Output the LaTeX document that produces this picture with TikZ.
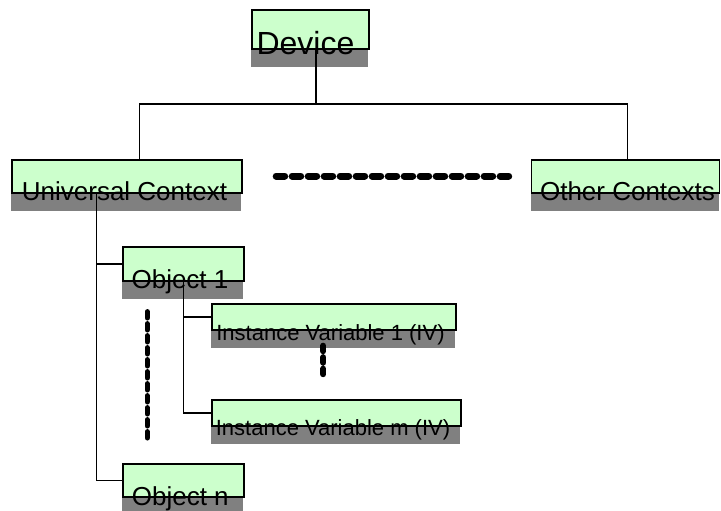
\documentclass[tikz,border=0pt]{standalone}
\usepackage{fontspec}
\setmainfont{Liberation Sans}
\usetikzlibrary{shadows}
\definecolor{boxgreen}{RGB}{204,255,204}
\definecolor{shadegray}{RGB}{128,128,128}

\begin{document}
\begin{tikzpicture}[x=1pt, y=-1pt, line width=1.3pt,
    ctx/.style={draw, fill=boxgreen, inner sep=0pt,
      general shadow={fill=shadegray, shadow xshift=-1pt, shadow yshift=-18pt}},
    txt/.style={anchor=base, inner sep=0pt, font=\fontsize{#1}{#1}\selectfont},
    dots/.style={line width=#1, line cap=round}]
  \clip (0,0) rectangle (721,511);

  % boxes
  \node [ctx, minimum width=117pt, minimum height=39pt] (dev) at (310.5,29.5) {};
  \node [ctx, minimum width=230pt, minimum height=33pt] (uc) at (127,176.5) {};
  \node [ctx, minimum width=188pt, minimum height=33pt] (oc) at (625.5,176.5) {};
  \node [ctx, minimum width=121pt, minimum height=34pt] (o1) at (183.5,264) {};
  \node [ctx, minimum width=244pt, minimum height=26pt] (iv1) at (334,317) {};
  \node [ctx, minimum width=249pt, minimum height=26pt] (ivm) at (336.5,413) {};
  \node [ctx, minimum width=121pt, minimum height=33pt] (on) at (183.5,480.5) {};

  % tree lines
  \coordinate (bus) at (316,104);
  \coordinate (busl) at (139.3,104);
  \coordinate (busr) at (627.7,104);
  \coordinate (trunk) at (96.7,0);
  \draw (dev.south -| bus) -- (bus);
  \draw (uc.north -| busl) -- (busl) -- (busr) -- (oc.north -| busr);
  \draw (uc.south -| trunk) |- (o1.west);
  \draw (uc.south -| trunk) |- (on.west);
  \draw (o1.south) |- (iv1.west);
  \draw (o1.south) |- (ivm.west);

  % ellipsis marks
  \draw [dots=7pt, dash pattern=on 8.5pt off 7.5pt] (276.2,176) -- (509,176);
  \draw [dots=5.5pt, dash pattern=on 6pt off 6pt] (147.3,311.8) -- (147.3,438);
  \draw [dots=6pt, dash pattern=on 5.5pt off 6pt] (323.3,345.7) -- (323.3,376);

  % labels
  \node [txt=32] (dev-t) at (305.5,55) {Device};
  \node [txt=26] (uc-t) at (124.5,200) {Universal Context};
  \node [txt=26] (oc-t) at (627.5,200) {Other Contexts};
  \node [txt=26] (o1-t) at (180,288) {Object 1};
  \node [txt=22] (iv1-t) at (330.5,340) {Instance Variable 1 (IV)};
  \node [txt=22] (ivm-t) at (333,435) {Instance Variable m (IV)};
  \node [txt=26] (on-t) at (180.3,505) {Object n};
\end{tikzpicture}
\end{document}
